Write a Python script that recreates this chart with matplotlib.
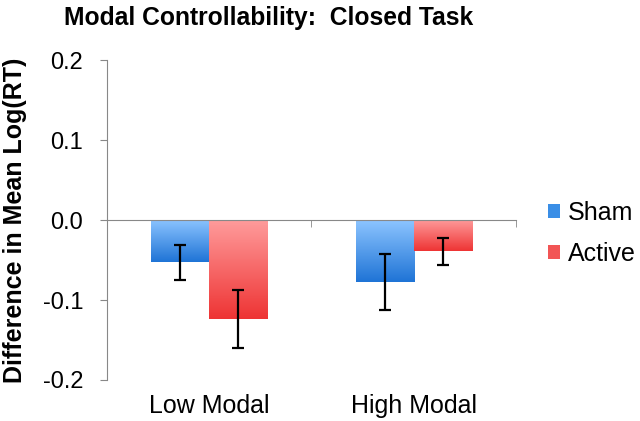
import numpy as np
import matplotlib.pyplot as plt
from matplotlib.colors import LinearSegmentedColormap

plt.rcParams['font.family'] = ['Liberation Sans', 'DejaVu Sans']
plt.rcParams['axes.unicode_minus'] = False

categories = ['Low Modal', 'High Modal']
sham = [-0.053, -0.077]
sham_err = [0.022, 0.035]
active = [-0.124, -0.039]
active_err = [0.036, 0.017]
yticks = [-0.2, -0.1, 0.0, 0.1, 0.2]

fig = plt.figure(figsize=(6.4, 4.21), dpi=100)
ax = fig.add_axes([0.167, 0.0974, 0.639, 0.76])

x = np.arange(len(categories))
w = 0.284
b1 = ax.bar(x - w/2, sham, w, color='#3a8ee6', label='Sham', zorder=2)
b2 = ax.bar(x + w/2, active, w, color='#f25555', label='Active', zorder=2)

# vertical gradient fill, light at the zero line
blue = LinearSegmentedColormap.from_list('b', ['#8cc4ff', '#1f74d6'])
red = LinearSegmentedColormap.from_list('r', ['#ff9c9c', '#ee3434'])
grad = np.linspace(0, 1, 100).reshape(-1, 1)
for bars, cm in [(b1, blue), (b2, red)]:
    for p in bars:
        x0, y0 = p.get_x(), p.get_y()
        x1, y1 = x0 + p.get_width(), y0 + p.get_height()
        im = ax.imshow(grad, cmap=cm, aspect='auto', origin='upper',
                       extent=[x0, x1, min(y0, y1), max(y0, y1)], zorder=2.5)
        im.set_clip_path(p)

ax.errorbar(x - w/2, sham, yerr=sham_err, fmt='none', ecolor='black',
            elinewidth=1.6, capsize=4, capthick=1.6, zorder=3)
ax.errorbar(x + w/2, active, yerr=active_err, fmt='none', ecolor='black',
            elinewidth=1.6, capsize=4, capthick=1.6, zorder=3)

ax.set_xlim(-0.5, 1.5)
ax.set_ylim(-0.2, 0.2)
ax.set_yticks(yticks)
ax.set_yticklabels(['%.1f' % v for v in yticks], fontsize=17)
ax.tick_params(axis='y', direction='out', length=5, color='#888888', pad=12)

ax.spines['top'].set_visible(False)
ax.spines['right'].set_visible(False)
ax.spines['left'].set_color('#888888')
ax.spines['bottom'].set_color('#888888')
ax.spines['bottom'].set_position(('data', 0))

ax.set_xticks(x)
ax.set_xticklabels(categories, fontsize=18)
ax.set_xticks([-0.5, 0.5, 1.5], minor=True)
ax.tick_params(axis='x', which='major', length=0, pad=125)
ax.tick_params(axis='x', which='minor', direction='out', length=5, color='#888888')

ax.set_ylabel('Difference in Mean Log(RT)', fontsize=18, fontweight='bold')
ax.yaxis.set_label_coords(-0.195, 0.5)
fig.text(0.42, 0.957, 'Modal Controllability:  Closed Task', ha='center', va='center',
         fontsize=17.7, fontweight='bold')

ax.legend(handles=[b1, b2], loc='center left', bbox_to_anchor=(1.078, 0.458), frameon=False,
          fontsize=18, handlelength=0.5, handleheight=0.5, handletextpad=0.3,
          labelspacing=0.68, borderpad=0, borderaxespad=0)

fig.savefig('out.png', dpi=100)
